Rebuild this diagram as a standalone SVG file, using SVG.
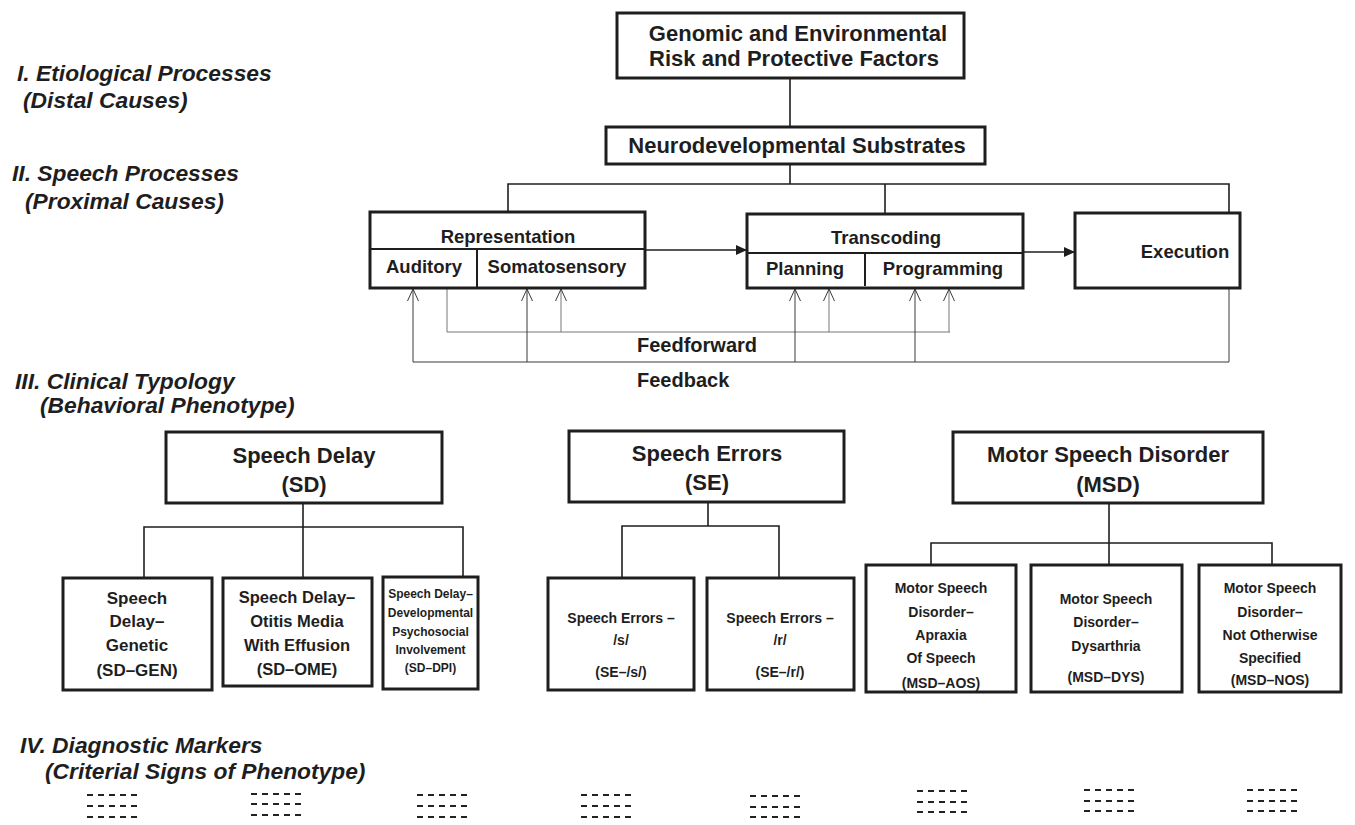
<svg xmlns="http://www.w3.org/2000/svg" width="1355" height="825" viewBox="0 0 1355 825">
<style>
  text { font-family: "Liberation Sans", Arial, sans-serif; font-weight: bold; fill: #1e1e1e; }
  .lbl { font-style: italic; font-size: 22.8px; }
  .c { text-anchor: middle; }
  .box { fill: #fff; stroke: #1e1e1e; stroke-width: 3; }
  .conn { fill: none; stroke: #1e1e1e; stroke-width: 1.6; }
  .ff { fill: none; stroke: #777; stroke-width: 1; }
  .fb { fill: none; stroke: #3a3a3a; stroke-width: 1; }
  .dash { stroke: #222; stroke-width: 2.2; stroke-dasharray: 6 5; }
  .t22 { font-size: 22px; }
  .t20 { font-size: 20px; }
  .t18 { font-size: 18.5px; }
  .t17 { font-size: 17px; }
  .t16 { font-size: 16.5px; }
  .t14 { font-size: 14px; }
  .t12 { font-size: 12px; }
</style>
<defs>
  <marker id="fill" viewBox="0 -6 12 12" refX="11" refY="0" markerWidth="12" markerHeight="12" markerUnits="userSpaceOnUse" orient="auto">
    <path d="M0,-5 L11,0 L0,5 Z" fill="#1e1e1e"/>
  </marker>
  <marker id="open" viewBox="0 -7 14 14" refX="13" refY="0" markerWidth="14" markerHeight="14" markerUnits="userSpaceOnUse" orient="auto">
    <path d="M1,-5.5 L13,0 L1,5.5" fill="none" stroke="#3a3a3a" stroke-width="1"/>
  </marker>
</defs>

<!-- Level labels -->
<g id="labels">
  <text class="lbl" x="17" y="81">I. Etiological Processes</text>
  <text class="lbl" x="23" y="108">(Distal Causes)</text>
  <text class="lbl" x="12" y="181">II. Speech Processes</text>
  <text class="lbl" x="25" y="209">(Proximal Causes)</text>
  <text class="lbl" x="15" y="389">III. Clinical Typology</text>
  <text class="lbl" x="40" y="413">(Behavioral Phenotype)</text>
  <text class="lbl" x="20" y="753">IV. Diagnostic Markers</text>
  <text class="lbl" x="45" y="779">(Criterial Signs of Phenotype)</text>
</g>

<!-- Connectors -->
<g id="connectors">
  <line class="conn" x1="790" y1="78" x2="790" y2="128"/>
  <polyline class="conn" points="790,164 790,184"/>
  <polyline class="conn" points="508,212 508,184 1229,184 1229,213"/>
  <line class="conn" x1="885" y1="184" x2="885" y2="214"/>
  <line class="conn" x1="645" y1="250" x2="747" y2="250" marker-end="url(#fill)"/>
  <line class="conn" x1="1023" y1="252" x2="1075" y2="252" marker-end="url(#fill)"/>

  <!-- feedforward -->
  <polyline class="ff" points="447,288 447,332 950,332"/>
  <line class="ff" x1="561" y1="332" x2="561" y2="289" marker-end="url(#open)"/>
  <line class="ff" x1="829" y1="332" x2="829" y2="289" marker-end="url(#open)"/>
  <line class="ff" x1="949" y1="332" x2="949" y2="289" marker-end="url(#open)"/>
  <!-- feedback -->
  <polyline class="fb" points="1229,288 1229,362 413,362"/>
  <line class="fb" x1="413" y1="362" x2="413" y2="289" marker-end="url(#open)"/>
  <line class="fb" x1="527" y1="362" x2="527" y2="289" marker-end="url(#open)"/>
  <line class="fb" x1="795" y1="362" x2="795" y2="289" marker-end="url(#open)"/>
  <line class="fb" x1="915" y1="362" x2="915" y2="289" marker-end="url(#open)"/>

  <!-- SD tree -->
  <polyline class="conn" points="303,503 303,578"/>
  <polyline class="conn" points="144,578 144,527 463,527 463,577"/>
  <!-- SE tree -->
  <polyline class="conn" points="708,502 708,526"/>
  <polyline class="conn" points="622,578 622,526 779,526 779,578"/>
  <!-- MSD tree -->
  <polyline class="conn" points="1109,503 1109,565"/>
  <polyline class="conn" points="931,565 931,543 1272,543 1272,565"/>
</g>

<g id="feedforward-label"><text class="t20" x="637" y="352">Feedforward</text></g>
<g id="feedback-label"><text class="t20" x="637" y="387">Feedback</text></g>

<g id="genomic">
  <rect class="box" x="617" y="13" width="347" height="65"/>
  <text class="t22 c" x="798" y="41">Genomic and Environmental</text>
  <text class="t22 c" x="794" y="66">Risk and Protective Factors</text>
</g>
<g id="neuro">
  <rect class="box" x="606" y="127" width="379" height="37"/>
  <text class="t22 c" x="797" y="153">Neurodevelopmental Substrates</text>
</g>

<g id="representation">
  <rect class="box" x="370" y="212" width="275" height="76"/>
  <line class="conn" x1="370" y1="249" x2="645" y2="249" style="stroke-width:2"/>
  <line class="conn" x1="477" y1="249" x2="477" y2="288" style="stroke-width:2"/>
  <text class="t18 c" x="508" y="243">Representation</text>
  <text class="t18 c" x="424" y="273">Auditory</text>
  <text class="t18 c" x="557" y="273">Somatosensory</text>
</g>
<g id="transcoding">
  <rect class="box" x="747" y="214" width="276" height="74"/>
  <line class="conn" x1="747" y1="253" x2="1023" y2="253" style="stroke-width:2"/>
  <line class="conn" x1="865" y1="253" x2="865" y2="286" style="stroke-width:2"/>
  <text class="t18 c" x="886" y="244">Transcoding</text>
  <text class="t18 c" x="805" y="275">Planning</text>
  <text class="t18 c" x="943" y="275">Programming</text>
</g>
<g id="execution">
  <rect class="box" x="1075" y="213" width="165" height="75"/>
  <text class="t18 c" x="1185" y="258">Execution</text>
</g>

<g id="sd">
  <rect class="box" x="166" y="432" width="276" height="71"/>
  <text class="t22 c" x="304" y="463">Speech Delay</text>
  <text class="t22 c" x="304" y="492">(SD)</text>
</g>
<g id="se">
  <rect class="box" x="569" y="431" width="275" height="71"/>
  <text class="t22 c" x="707" y="461">Speech Errors</text>
  <text class="t22 c" x="707" y="490">(SE)</text>
</g>
<g id="msd">
  <rect class="box" x="953" y="432" width="310" height="71"/>
  <text class="t22 c" x="1108" y="462">Motor Speech Disorder</text>
  <text class="t22 c" x="1108" y="492">(MSD)</text>
</g>

<g id="sd-gen">
  <rect class="box" x="63" y="578" width="149" height="112"/>
  <text class="t17 c" x="137" y="604">Speech</text>
  <text class="t17 c" x="137" y="627">Delay–</text>
  <text class="t17 c" x="137" y="651">Genetic</text>
  <text class="t17 c" x="137" y="676">(SD–GEN)</text>
</g>
<g id="sd-ome">
  <rect class="box" x="223" y="578" width="149" height="108"/>
  <text class="t16 c" x="297" y="603">Speech Delay–</text>
  <text class="t16 c" x="297" y="627">Otitis Media</text>
  <text class="t16 c" x="297" y="651">With Effusion</text>
  <text class="t16 c" x="297" y="675">(SD–OME)</text>
</g>
<g id="sd-dpi">
  <rect class="box" x="383" y="577" width="95" height="112"/>
  <text class="t12 c" x="430.5" y="598">Speech Delay–</text>
  <text class="t12 c" x="430.5" y="617">Developmental</text>
  <text class="t12 c" x="430.5" y="636">Psychosocial</text>
  <text class="t12 c" x="430.5" y="654">Involvement</text>
  <text class="t12 c" x="430.5" y="672">(SD–DPI)</text>
</g>
<g id="se-s">
  <rect class="box" x="548" y="578" width="146" height="112"/>
  <text class="t14 c" x="621" y="623">Speech Errors –</text>
  <text class="t14 c" x="621" y="645">/s/</text>
  <text class="t14 c" x="621" y="677">(SE–/s/)</text>
</g>
<g id="se-r">
  <rect class="box" x="707" y="578" width="147" height="112"/>
  <text class="t14 c" x="780" y="623">Speech Errors –</text>
  <text class="t14 c" x="780" y="645">/r/</text>
  <text class="t14 c" x="780" y="677">(SE–/r/)</text>
</g>
<g id="msd-aos">
  <rect class="box" x="866" y="565" width="150" height="127"/>
  <text class="t14 c" x="941" y="593">Motor Speech</text>
  <text class="t14 c" x="941" y="617">Disorder–</text>
  <text class="t14 c" x="941" y="640">Apraxia</text>
  <text class="t14 c" x="941" y="663">Of Speech</text>
  <text class="t14 c" x="941" y="688">(MSD–AOS)</text>
</g>
<g id="msd-dys">
  <rect class="box" x="1031" y="565" width="151" height="127"/>
  <text class="t14 c" x="1106" y="604">Motor Speech</text>
  <text class="t14 c" x="1106" y="627">Disorder–</text>
  <text class="t14 c" x="1106" y="651">Dysarthria</text>
  <text class="t14 c" x="1106" y="682">(MSD–DYS)</text>
</g>
<g id="msd-nos">
  <rect class="box" x="1199" y="565" width="142" height="127"/>
  <text class="t14 c" x="1270" y="593">Motor Speech</text>
  <text class="t14 c" x="1270" y="617">Disorder–</text>
  <text class="t14 c" x="1270" y="640">Not Otherwise</text>
  <text class="t14 c" x="1270" y="663">Specified</text>
  <text class="t14 c" x="1270" y="685">(MSD–NOS)</text>
</g>

<g id="markers">
  <g transform="translate(87,0)"><line class="dash" x1="0" y1="795" x2="52" y2="795"/><line class="dash" x1="0" y1="806" x2="52" y2="806"/><line class="dash" x1="0" y1="817" x2="52" y2="817"/></g>
  <g transform="translate(251,0)"><line class="dash" x1="0" y1="794" x2="52" y2="794"/><line class="dash" x1="0" y1="804" x2="52" y2="804"/><line class="dash" x1="0" y1="815" x2="52" y2="815"/></g>
  <g transform="translate(417,0)"><line class="dash" x1="0" y1="795" x2="52" y2="795"/><line class="dash" x1="0" y1="806" x2="52" y2="806"/><line class="dash" x1="0" y1="817" x2="52" y2="817"/></g>
  <g transform="translate(581,0)"><line class="dash" x1="0" y1="795" x2="52" y2="795"/><line class="dash" x1="0" y1="806" x2="52" y2="806"/><line class="dash" x1="0" y1="817" x2="52" y2="817"/></g>
  <g transform="translate(750,0)"><line class="dash" x1="0" y1="796" x2="52" y2="796"/><line class="dash" x1="0" y1="807" x2="52" y2="807"/><line class="dash" x1="0" y1="817" x2="52" y2="817"/></g>
  <g transform="translate(917,0)"><line class="dash" x1="0" y1="791" x2="52" y2="791"/><line class="dash" x1="0" y1="802" x2="52" y2="802"/><line class="dash" x1="0" y1="812" x2="52" y2="812"/></g>
  <g transform="translate(1084,0)"><line class="dash" x1="0" y1="790" x2="52" y2="790"/><line class="dash" x1="0" y1="801" x2="52" y2="801"/><line class="dash" x1="0" y1="811" x2="52" y2="811"/></g>
  <g transform="translate(1247,0)"><line class="dash" x1="0" y1="790" x2="52" y2="790"/><line class="dash" x1="0" y1="801" x2="52" y2="801"/><line class="dash" x1="0" y1="811" x2="52" y2="811"/></g>
</g>
</svg>
